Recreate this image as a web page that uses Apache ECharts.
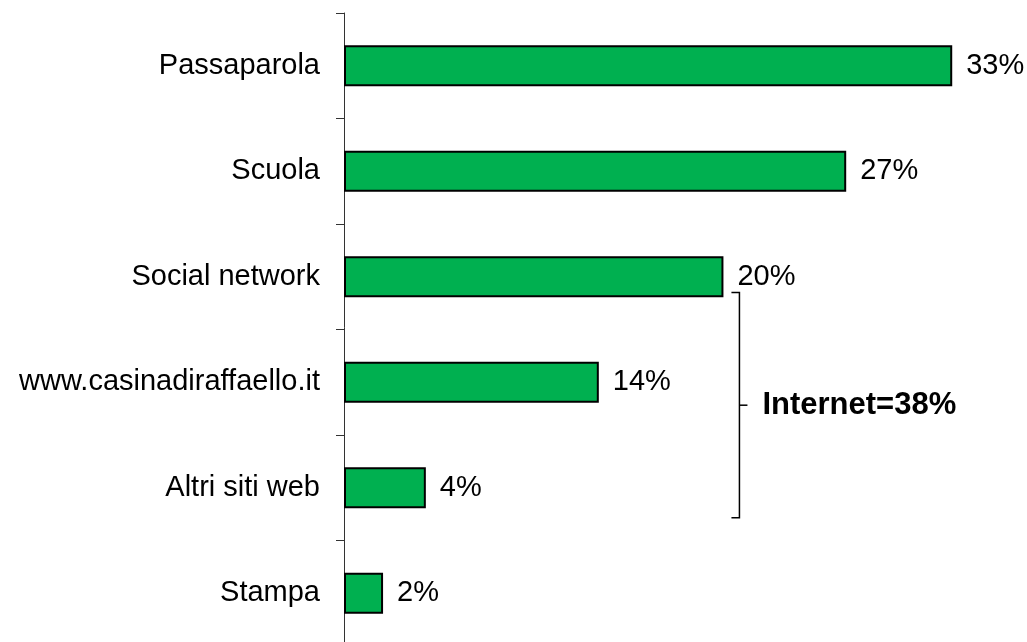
<!DOCTYPE html>
<html>
<head>
<meta charset="utf-8">
<script src="https://cdn.jsdelivr.net/npm/echarts@6/dist/echarts.min.js"></script>
<style>
    html, body { margin: 0; padding: 0; background: #fff; }
    #chart { width: 1027px; height: 642px; }
</style>
</head>
<body>
<div id="chart"></div>
<script>
    // data (percent of answers)
    var categories = ['Passaparola', 'Scuola', 'Social network', 'www.casinadiraffaello.it', 'Altri siti web', 'Stampa'];
    var shares = [32.7, 27.0, 20.4, 13.7, 4.4, 2.1];
    // the "internet" group marked with a brace
    var internetFirst = 'Social network';
    var internetLast = 'Altri siti web';
    var internetText = 'Internet=38%';

    var font = '"Liberation Sans", Arial, sans-serif';
    var chart = echarts.init(document.getElementById('chart'));

    chart.setOption({
        animation: false,
        grid: {
            left: 344,
            top: 13,
            width: 669.6,
            height: 633,
            containLabel: false,
            outerBoundsMode: 'none'
        },
        xAxis: {
            type: 'value',
            min: 0,
            max: 36,
            show: false
        },
        yAxis: {
            type: 'category',
            inverse: true,
            data: categories,
            axisLine: { lineStyle: { color: '#333', width: 1 } },
            axisTick: { show: true, alignWithLabel: false, length: 8, lineStyle: { color: '#333', width: 1 } },
            axisLabel: {
                margin: 24,
                fontSize: 29,
                fontFamily: font,
                color: '#000'
            }
        },
        series: [{
            type: 'bar',
            data: shares,
            barWidth: 41,
            itemStyle: {
                color: '#00B050',
                borderColor: '#000',
                borderWidth: 2
            },
            label: {
                show: true,
                position: 'right',
                distance: 14,
                fontSize: 29,
                fontFamily: font,
                color: '#000',
                formatter: function (p) {
                    return Math.round(p.value) + '%';
                }
            }
        }]
    });

    // brace next to the internet sources, placed from the axis scales
    var band = chart.convertToPixel({ yAxisIndex: 0 }, categories[1]) - chart.convertToPixel({ yAxisIndex: 0 }, categories[0]);
    var bx = chart.convertToPixel({ xAxisIndex: 0 }, shares[categories.indexOf(internetFirst)]) + 16;
    var by0 = chart.convertToPixel({ yAxisIndex: 0 }, internetFirst) + band * 0.15;
    var by1 = chart.convertToPixel({ yAxisIndex: 0 }, internetLast) + band * 0.285;
    var bmid = (by0 + by1) / 2;

    chart.setOption({
        graphic: [{
            type: 'polyline',
            shape: { points: [[bx - 8, by0], [bx, by0], [bx, by1], [bx - 8, by1]] },
            style: { stroke: '#000', lineWidth: 1.5, fill: null }
        }, {
            type: 'line',
            shape: { x1: bx, y1: bmid, x2: bx + 8, y2: bmid },
            style: { stroke: '#000', lineWidth: 1.5 }
        }, {
            type: 'text',
            x: bx + 23,
            y: bmid,
            style: {
                text: internetText,
                font: 'bold 31px ' + font,
                fill: '#000',
                verticalAlign: 'middle'
            }
        }]
    });
</script>
</body>
</html>
